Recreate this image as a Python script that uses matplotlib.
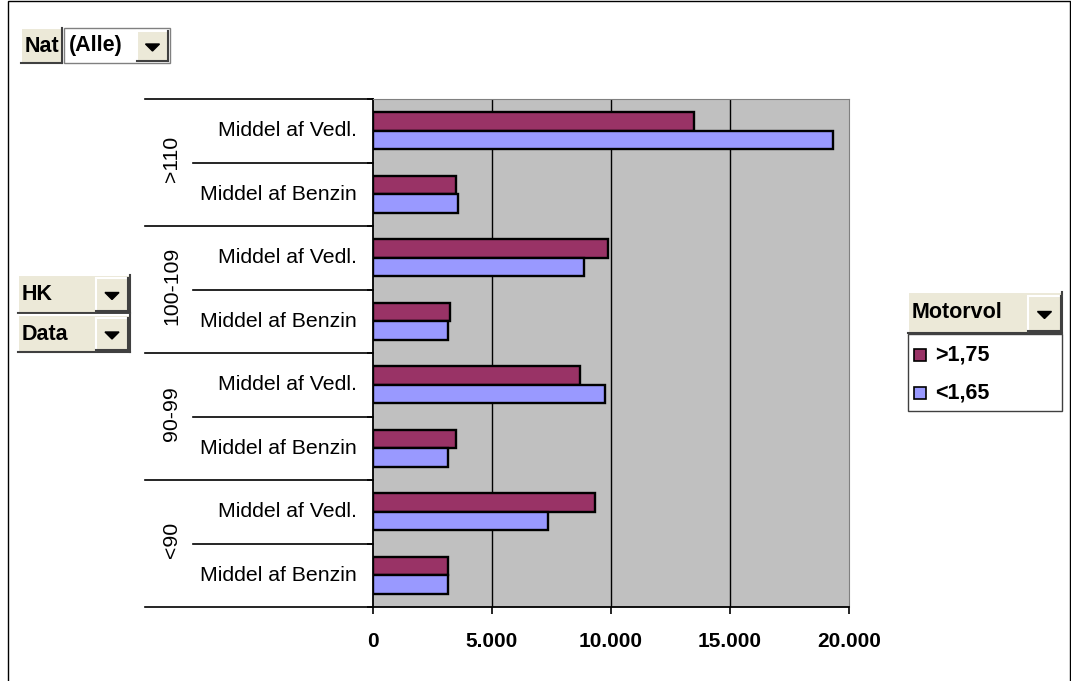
import matplotlib
matplotlib.use("Agg")
import matplotlib.pyplot as plt
from matplotlib.patches import Rectangle, Polygon
from matplotlib.lines import Line2D

plt.rcParams['font.family'] = ['Liberation Sans', 'DejaVu Sans']

# ---- data ----
groups = ['>110', '100-109', '90-99', '<90']
measures = ['Middel af Vedl.', 'Middel af Benzin']
series_names = ['>1,75', '<1,65']
vals_175 = [13500, 3490, 9870, 3240, 8700, 3490, 9330, 3150]
vals_165 = [19330, 3570, 8870, 3150, 9750, 3150, 7350, 3150]
xticks = [0, 5000, 10000, 15000, 20000]
xticklabels = ['0', '5.000', '10.000', '15.000', '20.000']

C_MAROON = '#993366'
C_BLUE = '#9999FF'
C_PLOT = '#C0C0C0'
C_BTN = '#ECE9D8'

W, H = 1071, 681
fig = plt.figure(figsize=(W / 100, H / 100), dpi=100)
fig.patch.set_facecolor('white')


def fx(x):
    return x / W


def fy(y):
    return 1 - y / H


def rect(x0, y0, x1, y1, face, edge='none', lw=1.0, z=1):
    r = Rectangle((fx(x0), fy(y1)), fx(x1) - fx(x0), fy(y0) - fy(y1),
                  transform=fig.transFigure, facecolor=face, edgecolor=edge,
                  linewidth=lw, zorder=z)
    fig.patches.append(r)


def line(xs, ys, color='black', lw=1.0, z=3):
    fig.lines.append(Line2D([fx(x) for x in xs], [fy(y) for y in ys],
                            transform=fig.transFigure, color=color, lw=lw, zorder=z))


def button(x0, y0, x1, y1, face=C_BTN):
    rect(x0, y0, x1, y1, face, z=2)
    line([x0, x1], [y0, y0], color='white', lw=1.5)
    line([x0, x0], [y0, y1], color='white', lw=1.5)
    line([x0, x1], [y1, y1], color='#404040', lw=1.5)
    line([x1, x1], [y0, y1], color='#404040', lw=1.5)


def dropdown(x0, y0, x1, y1):
    button(x0, y0, x1, y1)
    cx = (x0 + x1) / 2
    cy = (y0 + y1) / 2 + 1
    tri = Polygon([(fx(cx - 7), fy(cy - 3)), (fx(cx + 7), fy(cy - 3)), (fx(cx), fy(cy + 4))],
                  closed=True, transform=fig.transFigure, facecolor='black',
                  edgecolor='black', zorder=4)
    fig.patches.append(tri)


def ftext(x, y, s, **kw):
    fig.text(fx(x), fy(y), s, **kw)


# outer chart border
rect(8, 1, 1070, 700, 'none', edge='black', lw=1.0, z=0)

# ---- plot area ----
L, R, T, B = 373, 849, 99, 607
ax = fig.add_axes([fx(L), fy(B), fx(R) - fx(L), fy(T) - fy(B)])
ax.set_facecolor(C_PLOT)

n = len(vals_175)
ypos = list(range(n))
h = 0.29
ax.barh([y - h / 2 for y in ypos], vals_175, height=h, color=C_MAROON,
        edgecolor='black', linewidth=1.7, zorder=3)
ax.barh([y + h / 2 for y in ypos], vals_165, height=h, color=C_BLUE,
        edgecolor='black', linewidth=1.7, zorder=3)

ax.set_xlim(0, 20000)
ax.set_ylim(n - 0.5, -0.5)
ax.set_xticks(xticks)
ax.set_xticklabels(xticklabels, fontsize=15, fontweight='bold')
ax.tick_params(axis='x', direction='out', length=5, width=1.2, pad=13)
ax.set_yticks([i + 0.5 for i in range(-1, n)])
ax.set_yticklabels([])
ax.tick_params(axis='y', direction='out', length=4, width=1.2)
for v in xticks[1:-1]:
    ax.axvline(v, color='black', lw=1.0, zorder=1)
ax.spines['left'].set_color('black')
ax.spines['left'].set_linewidth(1.3)
ax.spines['bottom'].set_color('black')
ax.spines['bottom'].set_linewidth(1.3)
ax.spines['top'].set_color('#808080')
ax.spines['right'].set_color('#808080')

# ---- category table on the left ----
tr = ax.get_yaxis_transform()
xg = (145 - L) / (R - L)
xi = (193 - L) / (R - L)
xl = (357 - L) / (R - L)
xgl = (172 - L) / (R - L)
for gi in range(len(groups) + 1):
    yb = gi * 2 - 0.5
    ax.plot([xg, 0], [yb, yb], transform=tr, color='black', lw=1.2, clip_on=False)
for gi, g in enumerate(groups):
    yin = gi * 2 + 0.5
    ax.plot([xi, 0], [yin, yin], transform=tr, color='black', lw=1.2, clip_on=False)
    ax.text(xgl, gi * 2 + 0.45, g, transform=tr, rotation=90, ha='center', va='center',
            fontsize=15.3)
    for mi, m in enumerate(measures):
        ax.text(xl, gi * 2 + mi, m, transform=tr, ha='right', va='center', fontsize=15.3)

# ---- pivot buttons ----
bfs = 15.5
button(21, 28, 62, 63)
ftext(41.5, 46, 'Nat', ha='center', va='center', fontsize=bfs, fontweight='bold')
rect(64, 28, 170, 63, 'white', edge='#808080', lw=1.0, z=2)
ftext(69, 46, '(Alle)', ha='left', va='center', fontsize=bfs, fontweight='bold')
dropdown(137, 31, 168, 61)

button(18, 275, 130, 313)
ftext(22, 294, 'HK', ha='left', va='center', fontsize=bfs, fontweight='bold')
dropdown(96, 278, 128, 311)
button(18, 315, 130, 352)
ftext(22, 334, 'Data', ha='left', va='center', fontsize=bfs, fontweight='bold')
dropdown(96, 318, 128, 350)

# ---- legend ----
button(908, 292, 1062, 333)
ftext(912, 313, 'Motorvol', ha='left', va='center', fontsize=bfs, fontweight='bold')
dropdown(1028, 296, 1061, 331)
rect(908, 334, 1062, 411, 'white', edge='#404040', lw=1.0, z=2)
for i, (name, col) in enumerate(zip(series_names, [C_MAROON, C_BLUE])):
    yc = 355 + i * 38
    rect(914, yc - 6, 926, yc + 6, col, edge='black', lw=1.2, z=3)
    ftext(935, yc, name, ha='left', va='center', fontsize=bfs, fontweight='bold')

fig.savefig('out.png', dpi=100)
